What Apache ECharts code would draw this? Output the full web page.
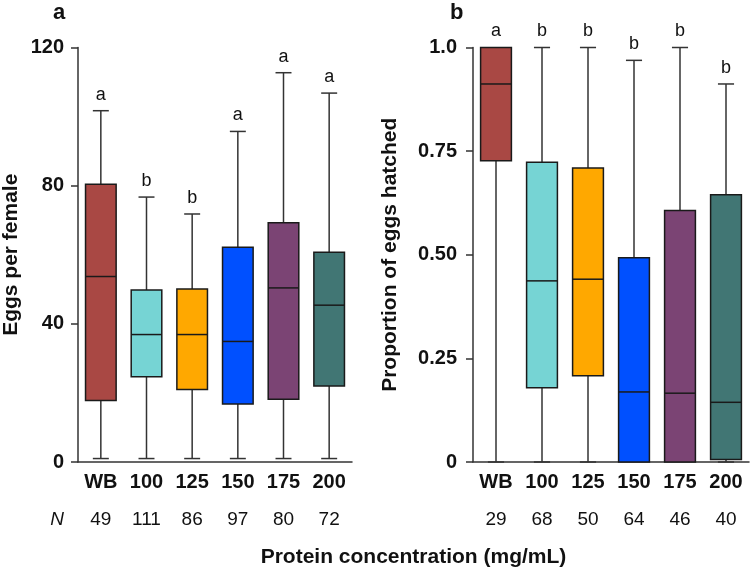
<!DOCTYPE html>
<html>
<head>
<meta charset="utf-8">
<script src="https://cdn.jsdelivr.net/npm/echarts@6/dist/echarts.min.js"></script>
<style>html,body{margin:0;padding:0;background:#fff}#c{width:750px;height:572px}</style>
</head>
<body>
<div id="c"></div>
<script>
// ---- data ----
const categories = ['WB', '100', '125', '150', '175', '200'];
const colors = ['#A94844', '#76D4D4', '#FFA800', '#0050FF', '#7B4474', '#417674'];

// [min, Q1, median, Q3, max]
const eggsMin = [1, 1, 1, 1, 1, 1];
const eggsQ1 = [17.8, 24.7, 21.0, 16.8, 18.2, 22.0];
const eggsMedian = [53.7, 36.9, 36.9, 34.9, 50.4, 45.4];
const eggsQ3 = [80.4, 49.8, 50.1, 62.2, 69.3, 60.7];
const eggsMax = [101.7, 76.7, 71.8, 95.7, 112.7, 106.8];
const eggsLetters = ['a', 'b', 'b', 'a', 'a', 'a'];
const eggsN = ['49', '111', '86', '97', '80', '72'];
const eggsTicks = [0, 40, 80, 120];

const hatchMin = [0, 0, 0, 0, 0, 0];
const hatchQ1 = [0.727, 0.179, 0.208, 0, 0, 0.006];
const hatchMedian = [0.912, 0.437, 0.441, 0.169, 0.166, 0.144];
const hatchQ3 = [1.0, 0.723, 0.709, 0.493, 0.607, 0.645];
const hatchMax = [1.0, 1.0, 1.0, 0.969, 1.0, 0.912];
const hatchLetters = ['a', 'b', 'b', 'b', 'b', 'b'];
const hatchN = ['29', '68', '50', '64', '46', '40'];
const hatchTickLabels = {0: '0', 0.25: '0.25', 0.5: '0.50', 0.75: '0.75', 1: '1.0'};

// ---- build ----
function rows(mn, q1, md, q3, mx) {
  return categories.map((c, i) => [i, mn[i], q1[i], md[i], q3[i], mx[i]]);
}
function makeRender(letters) {
  return function (params, api) {
    const i = api.value(0);
    const pMin = api.coord([i, api.value(1)]);
    const pQ1 = api.coord([i, api.value(2)]);
    const pMed = api.coord([i, api.value(3)]);
    const pQ3 = api.coord([i, api.value(4)]);
    const pMax = api.coord([i, api.value(5)]);
    const band = api.size([1, 0])[0];
    const bw = band * 0.67, cw = band * 0.35;
    const x = pMed[0];
    const wStyle = {stroke: '#333', lineWidth: 1.5};
    const children = [];
    if (pMax[1] < pQ3[1]) {
      children.push({type: 'line', shape: {x1: x, y1: pQ3[1], x2: x, y2: pMax[1]}, style: wStyle});
      children.push({type: 'line', shape: {x1: x - cw / 2, y1: pMax[1], x2: x + cw / 2, y2: pMax[1]}, style: wStyle});
    }
    if (pMin[1] > pQ1[1]) {
      children.push({type: 'line', shape: {x1: x, y1: pQ1[1], x2: x, y2: pMin[1]}, style: wStyle});
      children.push({type: 'line', shape: {x1: x - cw / 2, y1: pMin[1], x2: x + cw / 2, y2: pMin[1]}, style: wStyle});
    }
    children.push({type: 'rect', shape: {x: x - bw / 2, y: pQ3[1], width: bw, height: pQ1[1] - pQ3[1]},
      style: {fill: colors[params.dataIndex], stroke: '#1a1a1a', lineWidth: 1.5}});
    children.push({type: 'line', shape: {x1: x - bw / 2, y1: pMed[1], x2: x + bw / 2, y2: pMed[1]},
      style: {stroke: '#1a1a1a', lineWidth: 1.5}});
    children.push({type: 'text', x: x, y: pMax[1] - 7,
      style: {text: letters[params.dataIndex], fill: '#111', fontSize: 18, fontFamily: 'Liberation Sans, Arial, sans-serif',
        align: 'center', verticalAlign: 'bottom'}});
    return {type: 'group', children: children};
  };
}

const FONT = 'Liberation Sans, Arial, sans-serif';
const axisLineStyle = {color: '#333', width: 1.5};

function xAxes(gridIndex, nLabels) {
  return [
    {type: 'category', gridIndex: gridIndex, data: categories, boundaryGap: true,
      axisLine: {lineStyle: axisLineStyle},
      axisTick: {alignWithLabel: true, length: 6, lineStyle: axisLineStyle},
      axisLabel: {fontFamily: FONT, fontWeight: 'bold', fontSize: 20, color: '#111', margin: 10}},
    {type: 'category', gridIndex: gridIndex, data: nLabels, position: 'bottom', offset: 40,
      axisLine: {show: false}, axisTick: {show: false},
      axisLabel: {fontFamily: FONT, fontSize: 19, color: '#111', margin: 8}}
  ];
}

const chart = echarts.init(document.getElementById('c'), null, {renderer: 'canvas'});
chart.setOption({
  animation: false,
  backgroundColor: '#fff',
  grid: [
    {left: 76, top: 47.5, width: 276, height: 414.5},
    {left: 473, top: 47.5, width: 276, height: 414.5}
  ],
  xAxis: xAxes(0, eggsN).concat(xAxes(1, hatchN)),
  yAxis: [
    {type: 'value', gridIndex: 0, min: eggsTicks[0], max: eggsTicks[eggsTicks.length - 1], interval: 40,
      name: 'Eggs per female', nameLocation: 'middle', nameGap: 56,
      nameTextStyle: {fontFamily: FONT, fontWeight: 'bold', fontSize: 21, color: '#111'},
      axisLine: {show: true, lineStyle: axisLineStyle},
      axisTick: {show: true, length: 7, lineStyle: axisLineStyle},
      splitLine: {show: false},
      axisLabel: {fontFamily: FONT, fontWeight: 'bold', fontSize: 20, color: '#111', margin: 14}},
    {type: 'value', gridIndex: 1, min: 0, max: 1, interval: 0.25,
      name: 'Proportion of eggs hatched', nameLocation: 'middle', nameGap: 72,
      nameTextStyle: {fontFamily: FONT, fontWeight: 'bold', fontSize: 21, color: '#111'},
      axisLine: {show: true, lineStyle: axisLineStyle},
      axisTick: {show: true, length: 7, lineStyle: axisLineStyle},
      splitLine: {show: false},
      axisLabel: {fontFamily: FONT, fontWeight: 'bold', fontSize: 20, color: '#111', margin: 16,
        formatter: v => hatchTickLabels[v] !== undefined ? hatchTickLabels[v] : ''}}
  ],
  series: [
    {type: 'custom', xAxisIndex: 0, yAxisIndex: 0, renderItem: makeRender(eggsLetters),
      data: rows(eggsMin, eggsQ1, eggsMedian, eggsQ3, eggsMax), encode: {x: 0, y: [1, 2, 3, 4, 5]}, clip: false},
    {type: 'custom', xAxisIndex: 2, yAxisIndex: 1, renderItem: makeRender(hatchLetters),
      data: rows(hatchMin, hatchQ1, hatchMedian, hatchQ3, hatchMax), encode: {x: 0, y: [1, 2, 3, 4, 5]}, clip: false}
  ],
  graphic: [
    {type: 'text', left: 53, top: 2, style: {text: 'a', fontFamily: FONT, fontWeight: 'bold', fontSize: 22, fill: '#111'}},
    {type: 'text', left: 450, top: 2, style: {text: 'b', fontFamily: FONT, fontWeight: 'bold', fontSize: 22, fill: '#111'}},
    {type: 'text', x: 57, y: 520, style: {text: 'N', fontFamily: FONT, fontStyle: 'italic', fontSize: 19, fill: '#111', align: 'center', verticalAlign: 'middle'}},
    {type: 'text', x: 413.5, y: 557, style: {text: 'Protein concentration (mg/mL)', fontFamily: FONT, fontWeight: 'bold', fontSize: 21, fill: '#111', align: 'center', verticalAlign: 'middle'}}
  ]
});
</script>
</body>
</html>
